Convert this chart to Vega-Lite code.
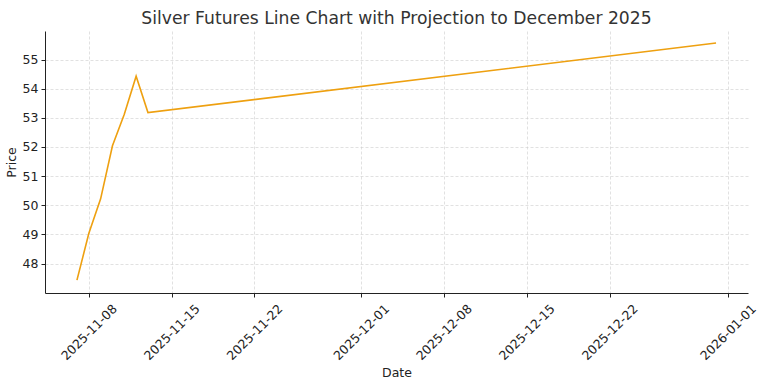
{
  "$schema": "https://vega.github.io/schema/vega-lite/v6.json",
  "width": 703,
  "height": 262,
  "autosize": {"type": "none"},
  "padding": {"left": 45, "top": 31, "right": 16, "bottom": 92},
  "background": "white",
  "title": {
    "text": "Silver Futures Line Chart with Projection to December 2025",
    "fontSize": 17.2,
    "font": "DejaVu Sans",
    "fontWeight": "normal",
    "color": "#333333",
    "anchor": "middle",
    "offset": 4
  },
  "data": {
    "values": [
      {"Date": "2025-11-07", "Price": 47.43},
      {"Date": "2025-11-08", "Price": 49.03},
      {"Date": "2025-11-09", "Price": 50.22},
      {"Date": "2025-11-10", "Price": 52.04},
      {"Date": "2025-11-11", "Price": 53.12},
      {"Date": "2025-11-12", "Price": 54.43},
      {"Date": "2025-11-13", "Price": 53.18},
      {"Date": "2025-12-31", "Price": 55.57}
    ]
  },
  "mark": {"type": "line", "color": "#EEA010", "strokeWidth": 1.6, "clip": true},
  "encoding": {
    "x": {
      "field": "Date",
      "type": "temporal",
      "scale": {
        "type": "utc",
        "domain": [
          {"year": 2025, "month": 11, "date": 4, "hours": 7, "minutes": 12, "utc": true},
          {"year": 2026, "month": 1, "date": 2, "hours": 16, "minutes": 48, "utc": true}
        ]
      },
      "axis": {
        "title": "Date",
        "labelExpr": "utcFormat(datum.value, '%Y-%m-%d')",
        "labelAngle": -45,
        "labelAlign": "center",
        "labelBaseline": "middle",
        "labelPadding": 35,
        "values": [
          {"year": 2025, "month": 11, "date": 8, "utc": true},
          {"year": 2025, "month": 11, "date": 15, "utc": true},
          {"year": 2025, "month": 11, "date": 22, "utc": true},
          {"year": 2025, "month": 12, "date": 1, "utc": true},
          {"year": 2025, "month": 12, "date": 8, "utc": true},
          {"year": 2025, "month": 12, "date": 15, "utc": true},
          {"year": 2025, "month": 12, "date": 22, "utc": true},
          {"year": 2026, "month": 1, "date": 1, "utc": true}
        ],
        "titlePadding": 4
      }
    },
    "y": {
      "field": "Price",
      "type": "quantitative",
      "scale": {"domain": [46.99, 55.98], "nice": false, "zero": false},
      "axis": {
        "title": "Price",
        "values": [48, 49, 50, 51, 52, 53, 54, 55],
        "titlePadding": 4
      }
    }
  },
  "config": {
    "view": {"stroke": null},
    "axis": {
      "labelFont": "DejaVu Sans",
      "titleFont": "DejaVu Sans",
      "labelFontSize": 12.5,
      "titleFontSize": 12.5,
      "titleFontWeight": "normal",
      "labelColor": "#222222",
      "titleColor": "#222222",
      "domainColor": "#222222",
      "domainWidth": 1,
      "tickColor": "#222222",
      "tickSize": 4,
      "labelPadding": 3,
      "grid": true,
      "gridColor": "#cccccc",
      "gridDash": [3, 2],
      "gridWidth": 0.6,
      "labelOverlap": false
    }
  }
}
